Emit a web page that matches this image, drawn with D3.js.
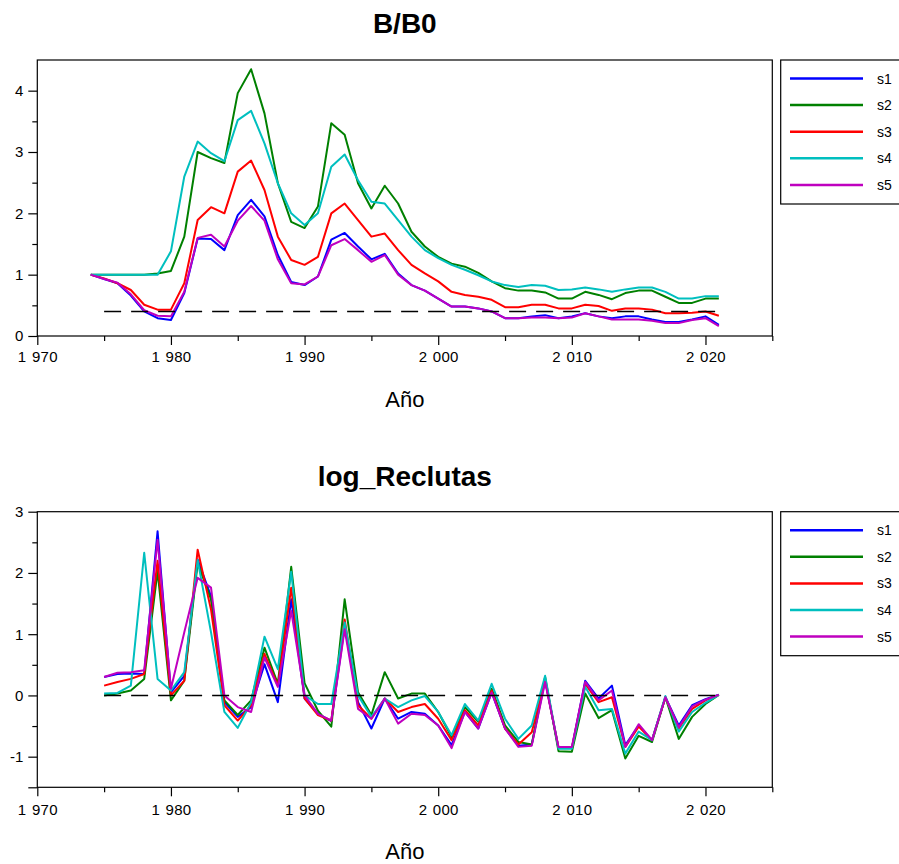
<!DOCTYPE html>
<html>
<head>
<meta charset="utf-8">
<script src="https://cdn.jsdelivr.net/npm/d3@7"></script>
<style>
  html, body { margin: 0; padding: 0; background: #fff; }
  svg { display: block; }
  text { font-family: "Liberation Sans", Arial, sans-serif; fill: #000; }
</style>
</head>
<body>
<svg id="chart" width="899" height="864"></svg>
<script>
// ---------- DATA ----------
const seriesNames = ["s1", "s2", "s3", "s4", "s5"];
const seriesColors = ["#0000ff", "#008000", "#ff0000", "#00bfbf", "#bf00bf"];

const yearsBB0 = d3.range(1974, 2022);
const bb0_s1 = [1.00,0.93,0.86,0.66,0.40,0.29,0.26,0.70,1.59,1.58,1.40,1.97,2.22,1.95,1.32,0.88,0.83,0.97,1.57,1.68,1.46,1.25,1.34,1.02,0.83,0.74,0.61,0.48,0.48,0.45,0.40,0.29,0.29,0.32,0.34,0.29,0.32,0.37,0.32,0.29,0.32,0.32,0.27,0.23,0.23,0.27,0.32,0.18];
const bb0_s2 = [1.00,1.00,1.00,1.00,1.00,1.02,1.06,1.62,3.00,2.90,2.82,3.96,4.35,3.63,2.49,1.86,1.76,2.11,3.47,3.28,2.49,2.08,2.45,2.16,1.70,1.46,1.29,1.18,1.13,1.03,0.89,0.78,0.74,0.74,0.71,0.61,0.61,0.72,0.67,0.60,0.70,0.74,0.74,0.64,0.54,0.54,0.61,0.61];
const bb0_s3 = [1.00,0.94,0.86,0.75,0.51,0.43,0.43,0.86,1.89,2.10,2.00,2.68,2.86,2.38,1.62,1.24,1.16,1.29,2.00,2.16,1.89,1.62,1.67,1.40,1.16,1.02,0.89,0.72,0.67,0.64,0.59,0.47,0.47,0.51,0.51,0.45,0.45,0.51,0.49,0.41,0.45,0.45,0.43,0.37,0.37,0.38,0.40,0.33];
const bb0_s4 = [1.00,1.00,1.00,1.00,1.00,1.00,1.38,2.60,3.17,2.98,2.85,3.52,3.67,3.14,2.49,2.00,1.81,2.00,2.76,2.96,2.54,2.19,2.16,1.89,1.62,1.40,1.27,1.16,1.08,0.99,0.89,0.83,0.80,0.83,0.82,0.75,0.76,0.79,0.76,0.72,0.76,0.79,0.79,0.72,0.61,0.61,0.65,0.65];
const bb0_s5 = [1.00,0.93,0.87,0.68,0.42,0.33,0.32,0.72,1.60,1.65,1.46,1.88,2.12,1.88,1.25,0.86,0.84,0.97,1.48,1.58,1.40,1.21,1.32,1.00,0.83,0.74,0.61,0.48,0.48,0.45,0.40,0.29,0.29,0.30,0.30,0.29,0.30,0.37,0.32,0.27,0.27,0.27,0.25,0.21,0.21,0.26,0.29,0.16];
const bb0RefYears = [1975, 2021];
const bb0RefValue = 0.4;

const yearsRec = d3.range(1975, 2022);
const rec_s1 = [0.30,0.35,0.36,0.35,2.68,0.05,0.32,2.22,1.62,-0.11,-0.35,-0.19,0.51,-0.11,1.57,-0.05,-0.30,-0.42,1.13,-0.11,-0.54,-0.05,-0.38,-0.27,-0.30,-0.49,-0.81,-0.27,-0.54,0.05,-0.54,-0.82,-0.80,0.25,-0.86,-0.86,0.24,-0.05,0.16,-0.81,-0.49,-0.73,-0.03,-0.49,-0.16,-0.06,0.01];
const rec_s2 = [0.00,0.03,0.08,0.27,2.03,-0.08,0.24,2.16,1.57,-0.08,-0.32,-0.08,0.78,0.19,2.10,0.20,-0.25,-0.51,1.57,0.05,-0.32,0.38,-0.05,0.03,0.03,-0.27,-0.68,-0.19,-0.43,0.11,-0.49,-0.76,-0.80,0.30,-0.91,-0.92,0.03,-0.37,-0.24,-1.03,-0.66,-0.76,-0.03,-0.71,-0.35,-0.14,0.01];
const rec_s3 = [0.16,0.22,0.27,0.35,2.20,0.00,0.24,2.38,1.40,-0.16,-0.41,-0.16,0.68,0.16,1.76,-0.05,-0.32,-0.41,1.24,-0.16,-0.38,-0.05,-0.27,-0.19,-0.14,-0.38,-0.73,-0.24,-0.49,0.08,-0.54,-0.80,-0.60,0.25,-0.85,-0.86,0.19,-0.11,-0.03,-0.84,-0.51,-0.73,-0.03,-0.54,-0.22,-0.08,0.01];
const rec_s4 = [0.03,0.04,0.16,2.33,0.27,0.08,0.38,2.21,1.03,-0.27,-0.53,-0.11,0.96,0.43,2.02,0.00,-0.14,-0.14,1.19,0.00,-0.35,-0.05,-0.19,-0.08,-0.01,-0.27,-0.65,-0.14,-0.41,0.19,-0.38,-0.71,-0.49,0.32,-0.87,-0.87,0.14,-0.24,-0.22,-0.95,-0.59,-0.73,-0.01,-0.59,-0.27,-0.12,0.01];
const rec_s5 = [0.30,0.37,0.38,0.41,2.54,0.11,1.03,1.92,1.76,0.00,-0.19,-0.27,0.62,0.14,1.38,0.00,-0.30,-0.41,1.08,-0.22,-0.38,-0.05,-0.46,-0.30,-0.32,-0.49,-0.86,-0.27,-0.54,0.05,-0.54,-0.84,-0.82,0.22,-0.84,-0.84,0.22,-0.08,0.08,-0.84,-0.47,-0.73,-0.03,-0.52,-0.18,-0.07,0.01];
const recRefYears = [1975, 2021];
const recRefValue = 0;

const xMajorTicks = [1970, 1980, 1990, 2000, 2010, 2020];
const xMinorTicks = [1975, 1985, 1995, 2005, 2015, 2025];
const bb0MajorTicks = [0, 1, 2, 3, 4];
const bb0MinorTicks = [0.5, 1.5, 2.5, 3.5];
const recMajorTicks = [-1.5, -1, 0, 1, 2, 3];
const recMinorTicks = [-0.5, 0.5, 1.5, 2.5];
const recLabelTicks = [-1, 0, 1, 2, 3];

// ---------- DRAW ----------
const svg = d3.select("#chart");
const left = 37.3, right = 772.3;
const x = d3.scaleLinear().domain([1970, 2025]).range([left, right]);
const fmtYear = d => { const s = String(d); return s.slice(0, 1) + " " + s.slice(1); };

function panel(cfg) {
  const g = svg.append("g");
  const y = d3.scaleLinear().domain(cfg.yDomain).range([cfg.bottom, cfg.top]);

  // title
  g.append("text").attr("x", (left + right) / 2).attr("y", cfg.titleY)
    .attr("text-anchor", "middle").style("font-size", "28px").style("font-weight", "bold")
    .text(cfg.title);

  // series
  const line = d3.line().x((d, i) => x(cfg.years[i])).y(d => y(d));
  cfg.series.forEach((vals, k) => {
    g.append("path").datum(vals).attr("d", line)
      .attr("fill", "none").attr("stroke", seriesColors[k]).attr("stroke-width", 2)
      .attr("stroke-linejoin", "round");
  });

  // reference dashed line
  g.append("line")
    .attr("x1", x(cfg.refYears[0])).attr("x2", x(cfg.refYears[1]))
    .attr("y1", y(cfg.refValue)).attr("y2", y(cfg.refValue))
    .attr("stroke", "#000").attr("stroke-width", 1.4).attr("stroke-dasharray", "17,10");

  // frame
  g.append("rect").attr("x", left).attr("y", cfg.top)
    .attr("width", right - left).attr("height", cfg.bottom - cfg.top)
    .attr("fill", "none").attr("stroke", "#000").attr("stroke-width", 1.2);

  // x axis
  const xa = g.append("g").attr("transform", `translate(0,${cfg.bottom})`);
  xa.call(d3.axisBottom(x).tickValues(xMajorTicks).tickSize(9).tickSizeOuter(0).tickPadding(cfg.xPad).tickFormat(fmtYear));
  xa.append("g").call(d3.axisBottom(x).tickValues(xMinorTicks).tickSize(5).tickSizeOuter(0).tickFormat(""));
  xa.selectAll(".domain").remove();
  xa.selectAll("line").attr("stroke", "#000").attr("stroke-width", 1.2);
  xa.selectAll("text").style("font-size", "15px").style("word-spacing", "1px").style("letter-spacing", "0.3px").attr("fill", "#000");

  // y axis
  const ya = g.append("g").attr("transform", `translate(${left},0)`);
  ya.call(d3.axisLeft(y).tickValues(cfg.yMajor).tickSize(9).tickSizeOuter(0).tickPadding(5)
    .tickFormat(d => cfg.yLabels.includes(d) ? String(d) : ""));
  ya.append("g").call(d3.axisLeft(y).tickValues(cfg.yMinor).tickSize(5).tickSizeOuter(0).tickFormat(""));
  ya.selectAll(".domain").remove();
  ya.selectAll("line").attr("stroke", "#000").attr("stroke-width", 1.2);
  ya.selectAll("text").style("font-size", "15px").attr("fill", "#000");

  // x label
  g.append("text").attr("x", (left + right) / 2).attr("y", cfg.xLabelY)
    .attr("text-anchor", "middle").style("font-size", "22px").text("Año");

  // legend
  const lg = g.append("g");
  lg.append("rect").attr("x", 780.7).attr("y", cfg.top).attr("width", 130).attr("height", 144)
    .attr("fill", "#fff").attr("stroke", "#000").attr("stroke-width", 1.2);
  seriesNames.forEach((n, k) => {
    const ry = cfg.top + 18.5 + k * 26.6;
    lg.append("line").attr("x1", 790).attr("x2", 863).attr("y1", ry).attr("y2", ry)
      .attr("stroke", seriesColors[k]).attr("stroke-width", 2.5);
    lg.append("text").attr("x", 877).attr("y", ry + 5).style("font-size", "14px").text(n);
  });
}

panel({
  title: "B/B0", titleY: 33, top: 60, bottom: 336, yDomain: [0, 4.5],
  years: yearsBB0, series: [bb0_s1, bb0_s2, bb0_s3, bb0_s4, bb0_s5],
  refYears: bb0RefYears, refValue: bb0RefValue,
  yMajor: bb0MajorTicks, yMinor: bb0MinorTicks, yLabels: bb0MajorTicks,
  xPad: 6, xLabelY: 407
});

panel({
  title: "log_Reclutas", titleY: 486, top: 511.7, bottom: 787.3, yDomain: [-1.5, 3],
  years: yearsRec, series: [rec_s1, rec_s2, rec_s3, rec_s4, rec_s5],
  refYears: recRefYears, refValue: recRefValue,
  yMajor: recMajorTicks, yMinor: recMinorTicks, yLabels: recLabelTicks,
  xPad: 8, xLabelY: 859
});
</script>
</body>
</html>
